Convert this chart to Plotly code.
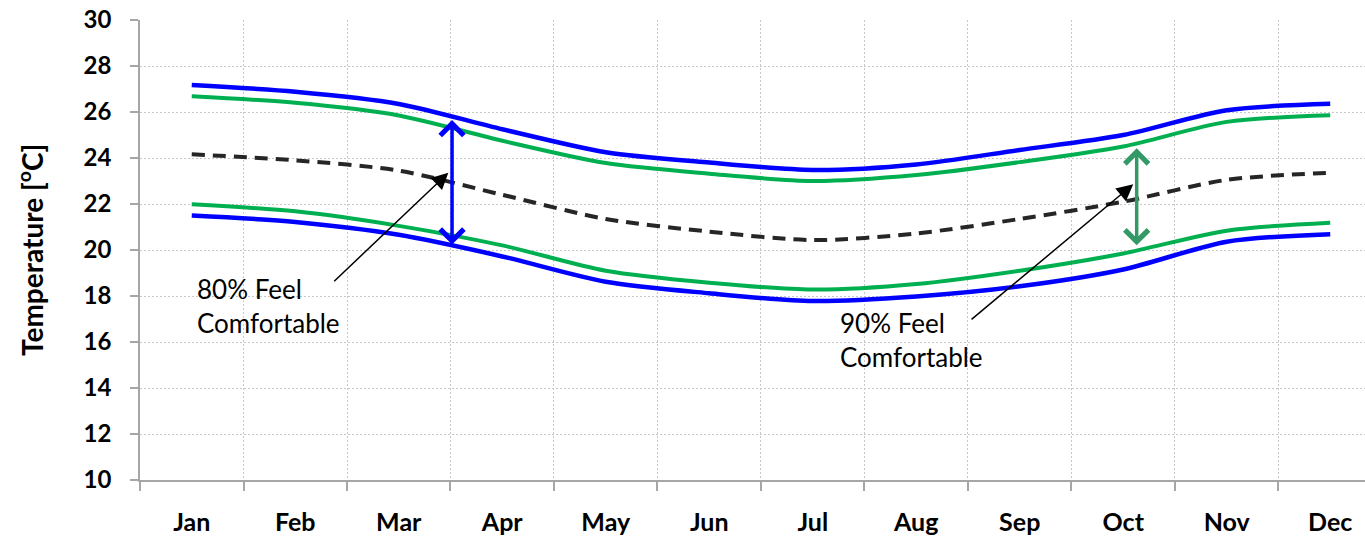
import plotly.graph_objects as go

months = ["Jan", "Feb", "Mar", "Apr", "May", "Jun", "Jul", "Aug", "Sep", "Oct", "Nov", "Dec"]
upper80 = [27.17, 26.88, 26.35, 25.25, 24.25, 23.8, 23.48, 23.72, 24.35, 25.0, 26.08, 26.36]
upper90 = [26.68, 26.4, 25.85, 24.75, 23.78, 23.32, 23.0, 23.26, 23.82, 24.5, 25.57, 25.86]
neutral = [24.16, 23.9, 23.45, 22.4, 21.35, 20.8, 20.43, 20.72, 21.35, 22.1, 23.05, 23.36]
lower90 = [21.99, 21.68, 21.05, 20.2, 19.1, 18.58, 18.28, 18.52, 19.1, 19.85, 20.84, 21.19]
lower80 = [21.5, 21.22, 20.66, 19.72, 18.62, 18.12, 17.78, 17.98, 18.42, 19.15, 20.36, 20.69]

x = list(range(len(months)))

fig = go.Figure()

def add_line(vals, color, width, dash="solid"):
    fig.add_trace(go.Scatter(x=x, y=vals, mode="lines",
                             line=dict(color=color, width=width, dash=dash,
                                       shape="spline", smoothing=0.8),
                             showlegend=False, hoverinfo="skip"))

add_line(upper80, "#0000FF", 4.5)
add_line(lower80, "#0000FF", 4.5)
add_line(upper90, "#00B050", 4)
add_line(lower90, "#00B050", 4)
add_line(neutral, "#262626", 4, dash="13px,8px")

# white text box behind "90%" label
fig.add_shape(type="rect", xref="x", yref="y", x0=6.215, x1=7.906, y0=13.48, y1=17.96,
              fillcolor="white", line=dict(width=0), layer="below")

lab_font = dict(family="Lato", size=26, color="#000000")
fig.add_annotation(x=0.031, y=17.57, xref="x", yref="y", text="80% Feel<br>Comfortable",
                   showarrow=False, xanchor="left", yanchor="middle", align="left", font=lab_font)
fig.add_annotation(x=6.24, y=16.09, xref="x", yref="y", text="90% Feel<br>Comfortable",
                   showarrow=False, xanchor="left", yanchor="middle", align="left", font=lab_font)

# pointer arrows
fig.add_annotation(x=2.479, y=23.36, ax=1.362, ay=18.58, xref="x", yref="y", axref="x", ayref="y",
                   text="", showarrow=True, arrowhead=2, arrowsize=2.2, arrowwidth=1.5,
                   arrowcolor="#000000", standoff=0, startstandoff=0)
fig.add_annotation(x=9.097, y=22.86, ax=7.52, ay=16.93, xref="x", yref="y", axref="x", ayref="y",
                   text="", showarrow=True, arrowhead=2, arrowsize=2.2, arrowwidth=1.5,
                   arrowcolor="#000000", standoff=0, startstandoff=0)

# double-headed range arrows
fig.add_annotation(x=2.515, y=25.65, ax=2.515, ay=20.17, xref="x", yref="y", axref="x", ayref="y",
                   text="", showarrow=True, arrowside="end+start", arrowhead=4, startarrowhead=4,
                   arrowsize=1.3, startarrowsize=1.3, arrowwidth=3.5, arrowcolor="#0000FF",
                   standoff=0, startstandoff=0)
fig.add_annotation(x=9.13, y=24.42, ax=9.13, ay=20.14, xref="x", yref="y", axref="x", ayref="y",
                   text="", showarrow=True, arrowside="end+start", arrowhead=4, startarrowhead=4,
                   arrowsize=1.3, startarrowsize=1.3, arrowwidth=3.5, arrowcolor="#339966",
                   standoff=0, startstandoff=0)

# y axis title
fig.add_annotation(x=-0.0898, y=0.5, xref="paper", yref="paper",
                   text="<b>Temperature [<sup>o</sup>C]</b>", textangle=-90, showarrow=False,
                   xanchor="center", yanchor="middle",
                   font=dict(family="Lato", size=28, color="#000000"))

tick_font = dict(family="Lato", size=24, color="#000000")

fig.update_layout(
    width=1365, height=536,
    margin=dict(l=140, r=0, t=20, b=56, autoexpand=False),
    paper_bgcolor="white", plot_bgcolor="white",
    showlegend=False,
    xaxis=dict(range=[-0.5, 11.336], tickvals=x, ticktext=["<b>%s</b>" % m for m in months],
               tickfont=dict(family="Lato", size=25, color="#000000"), ticks="", showgrid=False,
               zeroline=False, automargin=False,
               showline=True, linecolor="#A6A6A6", linewidth=1.5, ticklabelstandoff=19,
               minor=dict(tick0=0.5, dtick=1, showgrid=True, gridcolor="#C8C8C8",
                          griddash="2px,2px", gridwidth=1, ticks="outside", ticklen=9,
                          tickcolor="#A6A6A6", tickwidth=1.5)),
    yaxis=dict(range=[10, 30], dtick=2, tick0=10, tickfont=tick_font, automargin=False,
               tickformat="d", ticks="outside", ticklen=8, tickcolor="#A6A6A6", tickwidth=1.5,
               showgrid=True, gridcolor="#C8C8C8", griddash="2px,2px", gridwidth=1,
               zeroline=False, showline=True, linecolor="#A6A6A6", linewidth=1.5,
               ticklabelstandoff=14, tickprefix="<b>", ticksuffix="</b>"),
)

fig.write_html("out.html", config={"displayModeBar": False},
               post_script="document.body.style.margin='0';document.body.style.overflow='hidden';")
